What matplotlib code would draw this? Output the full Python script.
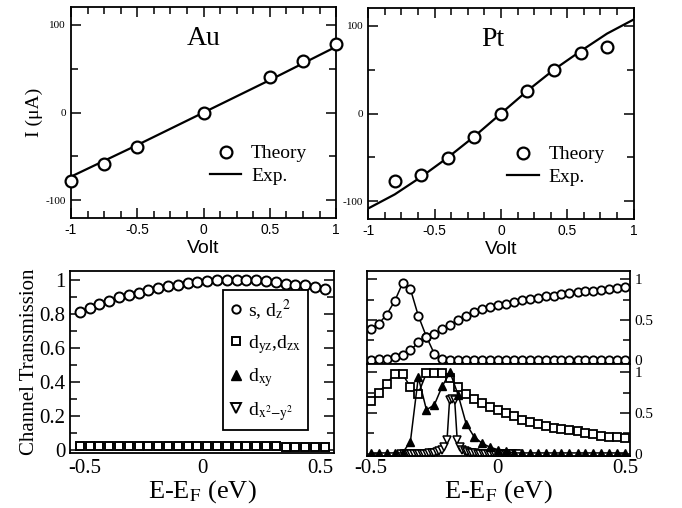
import numpy as np
import matplotlib.pyplot as plt
from matplotlib.lines import Line2D
from matplotlib.ticker import MultipleLocator

plt.rcParams['axes.unicode_minus'] = False
plt.rcParams['mathtext.fontset'] = 'stix'
SERIF = 'Liberation Serif'
SANS = 'Liberation Sans'

# ---- I-V data ----
v_au_theory = [-1, -0.75, -0.5, 0, 0.5, 0.75, 1]
i_au_theory = [-78, -59, -39, 0, 40, 59, 78]
v_au_exp = [-1, -0.5, 0, 0.5, 1]
i_au_exp = [-73, -37, 0, 37, 75]

v_pt_theory = [-0.8, -0.6, -0.4, -0.2, 0, 0.2, 0.4, 0.6, 0.8]
i_pt_theory = [-77, -70, -51, -27, 0, 26, 50, 69, 76]
v_pt_exp = [-1, -0.8, -0.6, -0.4, -0.2, 0, 0.2, 0.4, 0.6, 0.8, 1]
i_pt_exp = [-108, -92, -72, -50, -26, 0, 26, 50, 71, 91, 107]

# ---- Au channel transmission ----
e_au = [-0.520, -0.478, -0.437, -0.395, -0.354, -0.312, -0.270, -0.229, -0.187,
        -0.146, -0.104, -0.062, -0.021, 0.021, 0.062, 0.104, 0.146, 0.187,
        0.229, 0.270, 0.312, 0.354, 0.395, 0.437, 0.478, 0.520]
t_au_s = [0.812, 0.832, 0.855, 0.876, 0.896, 0.913, 0.925, 0.938, 0.952, 0.963,
          0.971, 0.983, 0.986, 0.992, 0.996, 1.0, 1.0, 1.0, 0.996, 0.992,
          0.986, 0.977, 0.971, 0.967, 0.957, 0.944]
t_au_dyz = [0.026, 0.026, 0.026, 0.025, 0.025, 0.025, 0.025, 0.024, 0.024, 0.024,
            0.023, 0.023, 0.023, 0.022, 0.022, 0.022, 0.022, 0.021, 0.021, 0.021,
            0.021, 0.020, 0.020, 0.020, 0.020, 0.020]

# ---- Pt channel transmission ----
e_pt = [-0.5, -0.469, -0.438, -0.406, -0.375, -0.344, -0.313, -0.281, -0.25,
        -0.219, -0.188, -0.156, -0.125, -0.094, -0.063, -0.031, 0.0, 0.031,
        0.063, 0.094, 0.125, 0.156, 0.188, 0.219, 0.25, 0.281, 0.313, 0.344,
        0.375, 0.406, 0.438, 0.469, 0.5]
t_pt_s1 = [0.39, 0.45, 0.56, 0.73, 0.95, 0.88, 0.55, 0.29, 0.08, 0.01, 0.0,
           0.0, 0.0, 0.0, 0.0, 0.0, 0.0, 0.0, 0.0, 0.0, 0.0, 0.0, 0.0, 0.0,
           0.0, 0.0, 0.0, 0.0, 0.0, 0.0, 0.0, 0.0, 0.0]
t_pt_s2 = [0.0, 0.01, 0.02, 0.04, 0.07, 0.12, 0.22, 0.29, 0.33, 0.38, 0.43,
           0.50, 0.55, 0.59, 0.63, 0.66, 0.68, 0.70, 0.72, 0.74, 0.76, 0.775,
           0.79, 0.80, 0.815, 0.83, 0.84, 0.85, 0.86, 0.87, 0.88, 0.89, 0.90]
t_pt_dyz = [0.65, 0.75, 0.86, 0.98, 0.98, 0.82, 0.74, 0.99, 0.99, 0.99, 0.93,
            0.82, 0.73, 0.67, 0.62, 0.58, 0.54, 0.50, 0.46, 0.42, 0.39, 0.37,
            0.34, 0.32, 0.31, 0.29, 0.28, 0.25, 0.24, 0.22, 0.21, 0.20, 0.19]
t_pt_dxy = [0.01, 0.01, 0.01, 0.01, 0.01, 0.15, 0.94, 0.54, 0.60, 0.83, 1.0,
            0.72, 0.37, 0.21, 0.13, 0.08, 0.05, 0.03, 0.01, 0.01, 0.01, 0.01,
            0.01, 0.01, 0.01, 0.01, 0.01, 0.01, 0.01, 0.01, 0.01, 0.01, 0.01]
e_pt_fine = [-0.38, -0.37, -0.36, -0.35, -0.34, -0.33, -0.32, -0.31, -0.30,
             -0.29, -0.28, -0.27, -0.26, -0.25, -0.24, -0.23, -0.22, -0.21,
             -0.20, -0.19, -0.18, -0.17, -0.16, -0.15, -0.14, -0.13, -0.12,
             -0.11, -0.10, -0.09, -0.08, -0.07, -0.06, -0.05, -0.04, -0.03,
             -0.02, -0.01, 0.0, 0.01, 0.02, 0.03, 0.04, 0.05, 0.06, 0.07, 0.08]
t_pt_dx2y2 = [0.0, 0.0, 0.0, 0.0, 0.0, 0.0, 0.0, 0.0, 0.0, 0.0, 0.0, 0.005,
              0.01, 0.01, 0.02, 0.03, 0.05, 0.08, 0.17, 0.66, 0.67, 0.66, 0.17,
              0.08, 0.05, 0.03, 0.02, 0.01, 0.01, 0.005, 0.0, 0.0, 0.0, 0.0,
              0.0, 0.0, 0.0, 0.0, 0.0, 0.0, 0.0, 0.0, 0.0, 0.0, 0.0, 0.0, 0.0]

fig = plt.figure(figsize=(6.82, 5.08), dpi=100)


def style(ax, lw=1.3):
    for s in ax.spines.values():
        s.set_linewidth(lw)
    ax.tick_params(which='both', direction='in', top=True, right=True, width=1.1)
    ax.tick_params(which='major', length=7)
    ax.tick_params(which='minor', length=5)


def num(v, p):
    return f'{v:g}'


# ---------- top panels: I-V ----------
ax1 = fig.add_axes([0.104, 0.571, 0.389, 0.415])
ax2 = fig.add_axes([0.540, 0.569, 0.389, 0.415])
for ax, name, vt, it, ve, ie, tx in [
        (ax1, 'Au', v_au_theory, i_au_theory, v_au_exp, i_au_exp, 0.5),
        (ax2, 'Pt', v_pt_theory, i_pt_theory, v_pt_exp, i_pt_exp, 0.47)]:
    ax.plot(ve, ie, color='black', lw=1.6, label='Exp.', zorder=2)
    ax.plot(vt, it, 'o', ms=8.5, mfc='white', mec='black', mew=1.6,
            label='Theory', zorder=3, clip_on=False)
    ax.set_xlim(-1, 1)
    ax.set_ylim(-120, 120)
    ax.xaxis.set_major_locator(MultipleLocator(0.5))
    ax.xaxis.set_minor_locator(MultipleLocator(0.125))
    ax.yaxis.set_major_locator(MultipleLocator(100))
    ax.yaxis.set_minor_locator(MultipleLocator(50))
    ax.xaxis.set_major_formatter(plt.FuncFormatter(num))
    style(ax)
    for lab in ax.get_xticklabels():
        lab.set_fontfamily(SANS)
        lab.set_fontsize(10)
    for lab in ax.get_yticklabels():
        lab.set_fontfamily(SERIF)
        lab.set_fontsize(8)
    ax.set_xlabel('Volt', family=SANS, fontsize=14, labelpad=2)
    ax.text(tx, 0.85, name, transform=ax.transAxes, ha='center', va='center',
            family=SERIF, fontsize=20)
    h, l = ax.get_legend_handles_labels()
    ax.legend(h[::-1], l[::-1], loc='lower right', bbox_to_anchor=(0.92, 0.12),
              frameon=False, prop={'family': SERIF, 'size': 14},
              handlelength=1.6, handletextpad=0.5, labelspacing=0.25,
              borderaxespad=0)

ax1.set_ylabel('I (μA)', family=SERIF, fontsize=14, labelpad=2)

# ---------- bottom-left: Au transmission ----------
ax3 = fig.add_axes([0.103, 0.108, 0.387, 0.358])
ax3.plot(e_au, t_au_s, 'o', ms=7.2, mfc='white', mec='black', mew=1.4)
ax3.plot(e_au, t_au_dyz, 's', ms=5.5, mfc='white', mec='black', mew=1.4)
ax3.set_xlim(-0.56, 0.56)
ax3.set_ylim(-0.018, 1.05)
ax3.yaxis.set_major_locator(MultipleLocator(0.2))
ax3.yaxis.set_minor_locator(MultipleLocator(0.1))
ax3.xaxis.set_major_locator(MultipleLocator(0.5))
style(ax3)
ax3.tick_params(axis='x', which='both', length=0, pad=4)
ax3.xaxis.set_major_formatter(plt.FuncFormatter(num))
ax3.yaxis.set_major_formatter(plt.FuncFormatter(num))
for lab in ax3.get_xticklabels() + ax3.get_yticklabels():
    lab.set_fontfamily(SERIF)
    lab.set_fontsize(15)
ax3.set_ylabel('Channel Transmission', family=SERIF, fontsize=15, labelpad=0)
ax3.set_xlabel('E-E$_\\mathrm{F}$ (eV)', family=SERIF, fontsize=19, labelpad=0)

leg_handles = [
    Line2D([], [], ls='none', marker='o', ms=6, mfc='white', mec='black', mew=1.4),
    Line2D([], [], ls='none', marker='s', ms=5.5, mfc='white', mec='black', mew=1.4),
    Line2D([], [], ls='none', marker='^', ms=6.5, mfc='black', mec='black'),
    Line2D([], [], ls='none', marker='v', ms=6.5, mfc='white', mec='black', mew=1.4),
]
leg_labels = ['s, d$_\\mathrm{z}$$^2$', 'd$_\\mathrm{yz}$,d$_\\mathrm{zx}$',
              'd$_\\mathrm{xy}$', 'd$_{\\mathrm{x}^2\\mathrm{-y}^2}$']
leg = ax3.legend(leg_handles, leg_labels, loc='upper left',
                 bbox_to_anchor=(0.58, 0.895), borderaxespad=0,
                 prop={'family': SERIF, 'size': 14}, handlelength=0.6,
                 handletextpad=0.3, labelspacing=0.55, borderpad=0.35,
                 fancybox=False, edgecolor='black', framealpha=1)
leg.get_frame().set_linewidth(1.3)

# ---------- bottom-right: Pt transmission ----------
ax4 = fig.add_axes([0.538, 0.283, 0.386, 0.183])
ax5 = fig.add_axes([0.538, 0.102, 0.386, 0.181])
ax4.plot(e_pt, t_pt_s1, 'o-', color='black', lw=1.1, ms=6, mfc='white', mew=1.3)
ax4.plot(e_pt, t_pt_s2, 'o-', color='black', lw=1.1, ms=6, mfc='white', mew=1.3)
ax5.plot(e_pt, t_pt_dyz, 's-', color='black', lw=1.1, ms=5.3, mfc='white', mew=1.3)
ax5.plot(e_pt_fine, t_pt_dx2y2, 'v-', color='black', lw=1.1, ms=5.5,
         mfc='white', mew=1.1)
ax5.plot(e_pt, t_pt_dxy, '^-', color='black', lw=1.1, ms=5.5, mfc='black')

for ax, lo, hi in [(ax4, -0.05, 1.1), (ax5, -0.03, 1.1)]:
    ax.set_xlim(-0.515, 0.52)
    ax.set_ylim(lo, hi)
    ax.yaxis.set_major_locator(MultipleLocator(0.5))
    ax.yaxis.set_minor_locator(MultipleLocator(0.25))
    ax.xaxis.set_major_locator(MultipleLocator(0.5))
    style(ax)
    ax.tick_params(axis='x', which='both', length=0)
    ax.tick_params(axis='y', labelleft=False, labelright=True, pad=3)
    ax.yaxis.set_major_formatter(plt.FuncFormatter(num))
    for lab in ax.get_yticklabels():
        lab.set_fontfamily(SERIF)
        lab.set_fontsize(11)
ax4.tick_params(axis='x', labelbottom=False)
ax5.xaxis.set_major_formatter(plt.FuncFormatter(num))
for lab in ax5.get_xticklabels():
    lab.set_fontfamily(SERIF)
    lab.set_fontsize(15)
ax5.tick_params(axis='x', pad=2)
ax5.set_xlabel('E-E$_\\mathrm{F}$ (eV)', family=SERIF, fontsize=19, labelpad=0)

fig.savefig('out.png', dpi=100)
